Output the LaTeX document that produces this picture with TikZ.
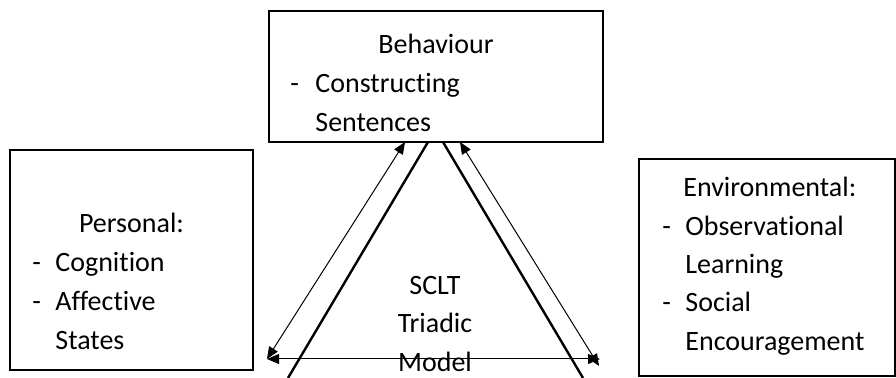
\documentclass[tikz,border=0pt]{standalone}
\usepackage{fontspec}
\setmainfont{Carlito}[Ligatures={NoCommon}]
\usetikzlibrary{arrows.meta}

\begin{document}
\begin{tikzpicture}[x=0.5pt,y=-0.5pt,
	box/.style={draw,line width=1pt,inner sep=0pt},
	txt/.style={anchor=base west,inner sep=0pt,font=\fontsize{14}{19.5}\selectfont},
	mid/.style={anchor=base,inner sep=0pt,font=\fontsize{14}{19.5}\selectfont},
	leg/.style={line width=1.2pt},
	link/.style={line width=0.5pt,{Triangle[length=6pt,width=5pt]}-{Triangle[length=6pt,width=5pt]}}]
	\useasboundingbox (0,0) rectangle (896,378);
	
	% the three boxes
	\node[box,minimum width=167pt,minimum height=65.5pt] (beh) at (436,76.5) {};
	\node[box,minimum width=121.5pt,minimum height=110pt] (per) at (131.5,260) {};
	\node[box,minimum width=128pt,minimum height=108.5pt] (env) at (767,267.5) {};
	
	% behaviour
	\node[mid] (behhead) at (436,54) {Behaviour};
	\node[txt] (behdash) at (290,93) {-};
	\node[txt] (behone) at (315,93) {Constructing};
	\node[txt] (behtwo) at (315,132) {Sentences};
	
	% personal
	\node[mid] (perhead) at (131.5,233) {Personal:};
	\node[txt] (perdasha) at (32,272) {-};
	\node[txt] (perone) at (55,272) {Cognition};
	\node[txt] (perdashb) at (32,311) {-};
	\node[txt] (pertwo) at (55,311) {Affective};
	\node[txt] (perthree) at (55,350) {States};
	
	% environmental
	\node[txt] (envhead) at (683,197) {Environmental:};
	\node[txt] (envdasha) at (662,236) {-};
	\node[txt] (envone) at (685,236) {Observational};
	\node[txt] (envtwo) at (685,274) {Learning};
	\node[txt] (envdashb) at (662,312) {-};
	\node[txt] (envthree) at (685,312) {Social};
	\node[txt] (envfour) at (685,351) {Encouragement};
	
	% centre
	\node[mid] (sclt) at (435,295) {SCLT};
	\node[mid] (triadic) at (435,333) {Triadic};
	\node[mid] (model) at (435,372) {Model};
	
	% triangle
	\coordinate (legltop) at (428,142);
	\coordinate (leglbot) at (288,378);
	\coordinate (legrtop) at (443,142);
	\coordinate (legrbot) at (583,378);
	\coordinate (arrlt) at (405,142);
	\coordinate (arrlb) at (267,359);
	\coordinate (arrrt) at (460,142);
	\coordinate (arrrb) at (599,366);
	\coordinate (arrhr) at (600,359);
	
	\draw[leg] (legltop) -- (leglbot);
	\draw[leg] (legrtop) -- (legrbot);
	\draw[link] (arrlt) -- (arrlb);
	\draw[link] (arrrt) -- (arrrb);
	\draw[link] (arrlb) -- (arrhr);
\end{tikzpicture}
\end{document}
